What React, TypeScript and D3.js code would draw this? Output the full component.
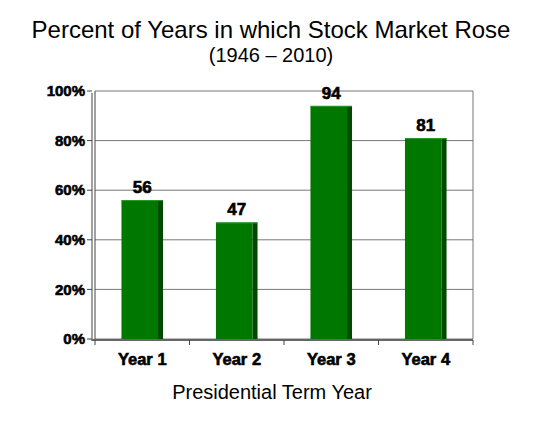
import React from 'react';
import * as d3 from 'd3';

// Chart data
const categories = ['Year 1', 'Year 2', 'Year 3', 'Year 4'];
const percentRose = [56, 47, 94, 81];
const yTicks = [0, 20, 40, 60, 80, 100];

const width = 550;
const height = 426;
const margin = { top: 91, right: 77, bottom: 87, left: 95 };

const App: React.FC = () => {
    const innerWidth = width - margin.left - margin.right;
    const innerHeight = height - margin.top - margin.bottom;

    const x = d3
        .scaleBand()
        .domain(categories)
        .range([0, innerWidth])
        .paddingInner(0.56)
        .paddingOuter(0.28);

    const y = d3.scaleLinear().domain([0, 100]).range([innerHeight, 0]);

    const barColor = '#007800';
    const sideColor = '#004a00';
    const gridColor = '#777';
    const font = 'Arial, "Liberation Sans", sans-serif';
    const side = 5;
    // heavy bold look
    const heavy = { fontWeight: 'bold' as const, stroke: '#000', strokeWidth: 0.6 };

    return (
        <div style={{ position: 'absolute', left: 0, top: 0 }}>
            <svg width={width} height={height} style={{ display: 'block', background: '#fff' }}>
                <text x={271} y={38} textAnchor="middle" fontFamily={font} fontSize={24} fill="#000">
                    Percent of Years in which Stock Market Rose
                </text>
                <text x={271} y={62} textAnchor="middle" fontFamily={font} fontSize={20} fill="#000">
                    (1946 – 2010)
                </text>

                <g transform={`translate(${margin.left},${margin.top})`}>
                    {/* gridlines */}
                    {yTicks.map((t) => (
                        <line key={t} x1={0} x2={innerWidth} y1={y(t)} y2={y(t)} stroke={gridColor} strokeWidth={1} />
                    ))}
                    {/* frame: right edge and double left wall */}
                    <line x1={innerWidth} x2={innerWidth} y1={0} y2={innerHeight} stroke={gridColor} />
                    <line x1={0} x2={0} y1={0} y2={innerHeight} stroke="#444" />
                    <line x1={-3} x2={-3} y1={2} y2={innerHeight + 2} stroke="#444" />

                    {/* y ticks and labels */}
                    {yTicks.map((t) => (
                        <g key={t} transform={`translate(0,${y(t)})`}>
                            <line x1={-8} x2={-3} stroke="#444" />
                            <text x={-10} dy="0.35em" textAnchor="end" fontFamily={font} fontSize={15} fill="#000" {...heavy}>
                                {t}%
                            </text>
                        </g>
                    ))}

                    {/* bars */}
                    {categories.map((c, i) => {
                        const bx = x(c)!;
                        const bw = x.bandwidth();
                        const by = y(percentRose[i]);
                        return (
                            <g key={c}>
                                <rect x={bx} y={by} width={bw - side} height={innerHeight - by} fill={barColor} />
                                <rect x={bx + bw - side} y={by} width={side} height={innerHeight - by} fill={sideColor} />
                                <line x1={bx} x2={bx + bw} y1={by + 0.5} y2={by + 0.5} stroke="#2e962e" />
                                <text
                                    x={bx + bw / 2}
                                    y={by - 7}
                                    textAnchor="middle"
                                    fontFamily={font}
                                    fontSize={17}
                                    fill="#000"
                                    {...heavy}
                                >
                                    {percentRose[i]}
                                </text>
                            </g>
                        );
                    })}

                    {/* x axis */}
                    <line x1={-3} x2={innerWidth} y1={innerHeight + 1} y2={innerHeight + 1} stroke="#666" strokeWidth={2} />
                    {d3.range(categories.length + 1).map((k) => (
                        <line
                            key={k}
                            x1={(innerWidth / categories.length) * k}
                            x2={(innerWidth / categories.length) * k}
                            y1={innerHeight + 1}
                            y2={innerHeight + 6}
                            stroke="#444"
                        />
                    ))}
                    {categories.map((c) => (
                        <text
                            key={c}
                            x={x(c)! + x.bandwidth() / 2}
                            y={innerHeight + 26}
                            textAnchor="middle"
                            fontFamily={font}
                            fontSize={16.5}
                            fill="#000"
                            {...heavy}
                        >
                            {c}
                        </text>
                    ))}
                </g>

                <text x={272} y={399} textAnchor="middle" fontFamily={font} fontSize={20} fill="#000">
                    Presidential Term Year
                </text>
            </svg>
        </div>
    );
};

export default App;
